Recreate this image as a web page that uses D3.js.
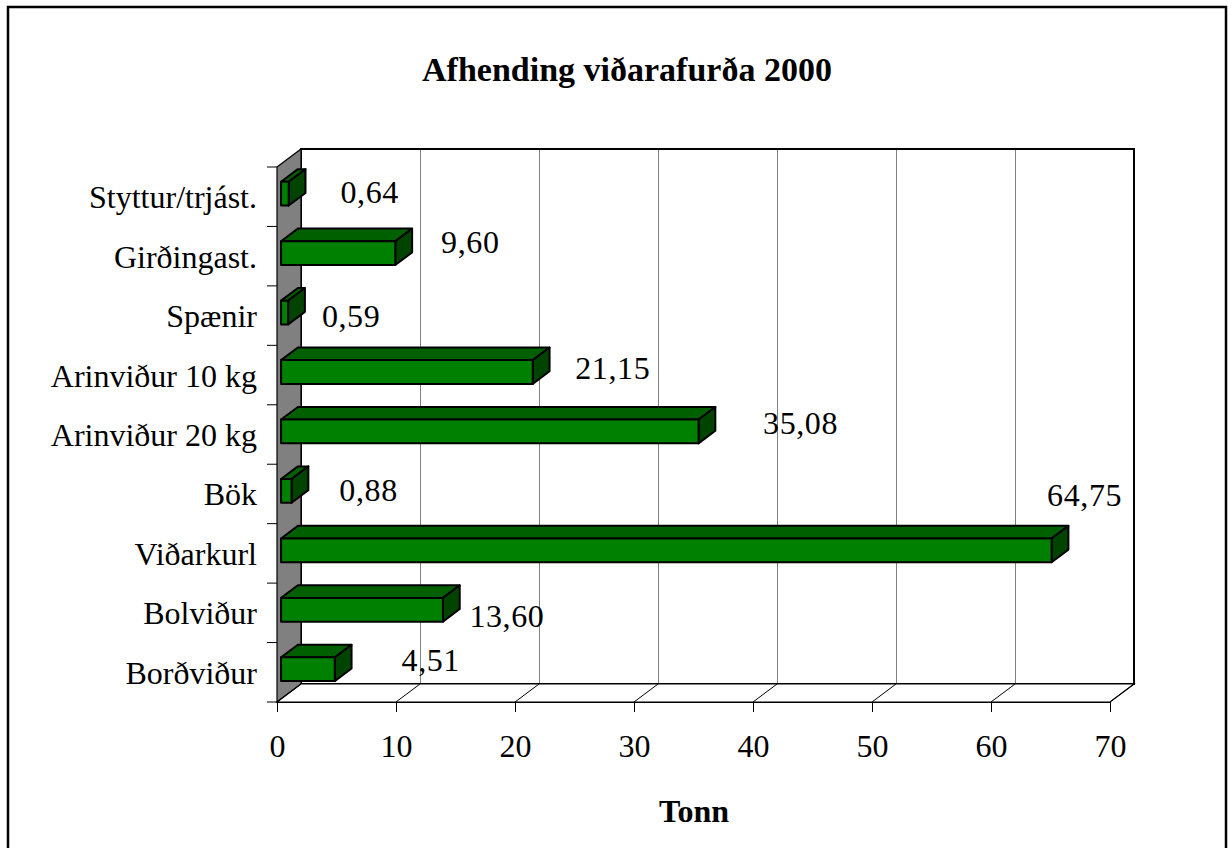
<html>
  <head>
    <meta charset="utf-8">
    <script src="https://d3js.org/d3.v7.min.js"></script>
    <style>
      body { margin: 0; background: #fff; }
      svg { display: block; }
    </style>
  </head>
  <body>
    <svg id="chart" width="1231" height="848"></svg>

    <script>
      // data (bottom to top, as in the sheet)
      var categories = ["Borðviður", "Bolviður", "Viðarkurl", "Bök", "Arinviður 20 kg",
                        "Arinviður 10 kg", "Spænir", "Girðingast.", "Styttur/trjást."];
      var values = [4.51, 13.60, 64.75, 0.88, 35.08, 21.15, 0.59, 9.60, 0.64];
      var xTicks = [0, 10, 20, 30, 40, 50, 60, 70];
      var title = "Afhending viðarafurða 2000";
      var xTitle = "Tonn";

      // Excel pushed its labels around a bit, so keep the nudges separate
      var labelNudge = [[96, 2], [64, 17], [33, -44], [77, 10], [102, 3],
                        [80, 7], [63, 14], [75, 0], [81, 9]];

      var W = 1231, H = 848;
      var DX = 24, DY = -18;       // depth of the 3d box
      var f1 = 0.17, f2 = 0.87;    // bar front / back inside the depth
      var serif = '"Liberation Serif", "Times New Roman", serif';

      var svg = d3.select("#chart");

      svg.append("rect")
        .attr("x", 8).attr("y", 7)
        .attr("width", 1218).attr("height", 860)
        .attr("fill", "#fff").attr("stroke", "#000").attr("stroke-width", 2.5);

      var x = d3.scaleLinear().domain([0, 70]).range([277, 1110]);
      var y = d3.scaleBand()
        .domain(categories.slice().reverse())
        .range([167, 702]);
      var bw = y.bandwidth();
      var top0 = y.range()[0], bot0 = y.range()[1];

      // back wall grid
      var g = svg.append("g").attr("shape-rendering", "crispEdges");
      g.selectAll("line.grid")
        .data(xTicks.slice(1, -1))
        .enter().append("line")
        .attr("x1", function(d) { return Math.round(x(d) + DX) + 0.5; })
        .attr("x2", function(d) { return Math.round(x(d) + DX) + 0.5; })
        .attr("y1", bot0 + DY).attr("y2", top0 + DY)
        .attr("stroke", "#808080").attr("stroke-width", 1);

      g.append("rect")
        .attr("x", x(0) + DX).attr("y", top0 + DY)
        .attr("width", x(70) - x(0)).attr("height", bot0 - top0)
        .attr("fill", "none").attr("stroke", "#000").attr("stroke-width", 1.2);

      var g2 = svg.append("g");
      // left wall
      g2.append("polygon")
        .attr("points", [[x(0), top0], [x(0) + DX, top0 + DY], [x(0) + DX, bot0 + DY], [x(0), bot0]].join(" "))
        .attr("fill", "#808080").attr("stroke", "#000").attr("stroke-width", 1.2);

      // floor
      g2.append("polygon")
        .attr("points", [[x(0), bot0], [x(70), bot0], [x(70) + DX, bot0 + DY], [x(0) + DX, bot0 + DY]].join(" "))
        .attr("fill", "#fff").attr("stroke", "#000").attr("stroke-width", 1.2);
      g2.selectAll("line.slant")
        .data(xTicks)
        .enter().append("line")
        .attr("x1", function(d) { return x(d); })
        .attr("x2", function(d) { return x(d) + DX; })
        .attr("y1", bot0).attr("y2", bot0 + DY)
        .attr("stroke", "#000").attr("stroke-width", 1);

      // value axis
      var xAxis = svg.append("g")
        .attr("transform", "translate(0," + bot0 + ")")
        .call(d3.axisBottom(x).tickValues(xTicks).tickSize(10).tickSizeOuter(0));
      xAxis.select(".domain").attr("stroke", "#000");
      xAxis.selectAll(".tick line").attr("stroke", "#000");
      xAxis.selectAll("text")
        .attr("y", 55).attr("dy", 0)
        .attr("fill", "#000")
        .style("font-family", serif).style("font-size", "32px");

      // category axis
      var yAxis = svg.append("g")
        .attr("transform", "translate(" + x(0) + ",0)")
        .call(d3.axisLeft(y).tickSize(0).tickPadding(20));
      yAxis.select(".domain").remove();
      yAxis.selectAll("text")
        .attr("dy", "0.36em")
        .attr("fill", "#000")
        .style("font-family", serif).style("font-size", "32px");
      svg.append("g").selectAll("line")
        .data(d3.range(categories.length + 1))
        .enter().append("line")
        .attr("x1", x(0) - 10).attr("x2", x(0))
        .attr("y1", function(i) { return top0 + i * bw; })
        .attr("y2", function(i) { return top0 + i * bw; })
        .attr("stroke", "#000");

      // bars
      var bh = bw * 0.4;
      var ddx = (f2 - f1) * DX, ddy = (f2 - f1) * DY;
      var rows = categories.map(function(c, i) {
        var cy = y(c) + bw / 2 + f1 * DY;
        return { c: c, v: values[i], x0: x(0) + f1 * DX, x1: x(values[i]) + f1 * DX,
                 yt: cy - bh / 2, yb: cy + bh / 2, cy: cy, n: labelNudge[i] };
      });

      var bars = svg.append("g").selectAll("g")
        .data(rows)
        .enter().append("g")
        .attr("stroke", "#000").attr("stroke-width", 2).attr("stroke-linejoin", "round");

      bars.append("polygon")
        .attr("fill", "#006000")
        .attr("points", function(d) {
          return [[d.x0, d.yt], [d.x1, d.yt], [d.x1 + ddx, d.yt + ddy], [d.x0 + ddx, d.yt + ddy]].join(" ");
        });
      bars.append("polygon")
        .attr("fill", "#004400")
        .attr("points", function(d) {
          return [[d.x1, d.yt], [d.x1 + ddx, d.yt + ddy], [d.x1 + ddx, d.yb + ddy], [d.x1, d.yb]].join(" ");
        });
      bars.append("rect")
        .attr("fill", "#008000")
        .attr("x", function(d) { return d.x0; })
        .attr("y", function(d) { return d.yt; })
        .attr("width", function(d) { return d.x1 - d.x0; })
        .attr("height", bh);

      // value labels
      var fmt = d3.formatLocale({ decimal: ",", thousands: ".", grouping: [3], currency: ["", ""] }).format(".2f");
      svg.append("g").selectAll("text")
        .data(rows)
        .enter().append("text")
        .attr("x", function(d) { return d.x1 + d.n[0]; })
        .attr("y", function(d) { return d.cy + d.n[1]; })
        .attr("text-anchor", "middle")
        .style("font-family", serif).style("font-size", "32px")
        .style("letter-spacing", "0.6px")
        .text(function(d) { return fmt(d.v); });

      // titles
      svg.append("text")
        .attr("x", 627).attr("y", 81)
        .attr("text-anchor", "middle")
        .style("font-family", serif).style("font-size", "34px").style("font-weight", "bold")
        .text(title);
      svg.append("text")
        .attr("x", 694).attr("y", 822)
        .attr("text-anchor", "middle")
        .style("font-family", serif).style("font-size", "32px").style("font-weight", "bold")
        .text(xTitle);
    </script>
  </body>
</html>
